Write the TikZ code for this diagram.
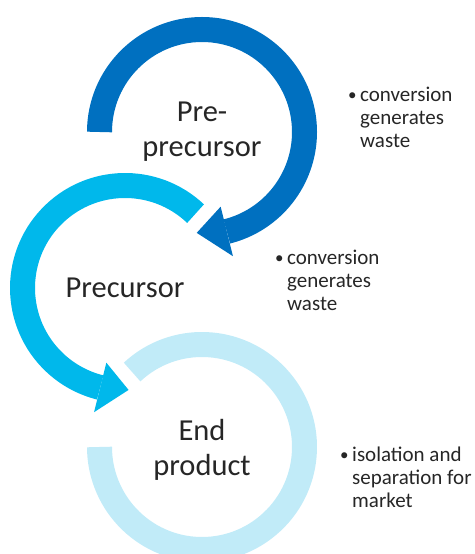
\documentclass[tikz,border=0pt]{standalone}
\usepackage{fontspec}
\setmainfont{Carlito}
\usepackage{tikz}

\definecolor{stepdark}{HTML}{0070C0}
\definecolor{stepmid}{HTML}{00B8EB}
\definecolor{steppale}{HTML}{C1EBF8}

\tikzset{
    ring/.style={line width=25pt},
    bigtext/.style={font=\fontsize{30.5}{35}\selectfont, align=center, inner sep=0pt, text=black!85},
    note/.style={font=\fontsize{21}{23}\selectfont, inner sep=0pt, text=black!85, anchor=base west}
}
\newcommand{\bulletnote}[3]{\begin{tabular}[t]{@{}l@{}l@{}}\makebox[12pt][l]{\fontsize{17}{17}\selectfont\raisebox{1pt}{\textbullet}} & #1\\ & #2\\ & #3\end{tabular}}

\begin{document}
\begin{tikzpicture}[x=1pt, y=1pt]
        \useasboundingbox (0, 0) rectangle (474, 554);
        \clip (0, 0) rectangle (474, 554);
        \coordinate (c1) at (202, 422);
        \coordinate (c2) at (125, 266);
        \coordinate (c3) at (202, 107);
        % end product ring, no head
        \draw[ring, steppale] ([shift={(133:102.5)}]c3) arc[start angle=133, end angle=-180, radius=102.5];
        % precursor arrow
        \draw[ring, stepmid] ([shift={(46.5:102.5)}]c2) arc[start angle=46.5, end angle=256, radius=102.5];
        \fill[stepmid] ([shift={(256:77)}]c2) -- ([shift={(256:128)}]c2) -- ([shift={(272:102)}]c2) -- cycle;
        % pre-precursor arrow
        \draw[ring, stepdark] ([shift={(180:102.5)}]c1) arc[start angle=180, end angle=-76, radius=102.5];
        \fill[stepdark] ([shift={(-76:77)}]c1) -- ([shift={(-76:128)}]c1) -- ([shift={(-93:101)}]c1) -- cycle;
        \node[bigtext] (pre) at (c1) {Pre-\\precursor};
        \node[bigtext, anchor=base] (prec) at (125, 256) {Precursor};
        \node[bigtext] (end) at (202, 104) {End\\product};
        \node[note] (w1) at (348, 452) {\bulletnote{conversion}{generates}{waste}};
        \node[note] (w2) at (275, 289) {\bulletnote{conversion}{generates}{waste}};
        \node[note] (w3) at (340, 92) {\bulletnote{isolation and}{separation for}{market}};
    \end{tikzpicture}
\end{document}
